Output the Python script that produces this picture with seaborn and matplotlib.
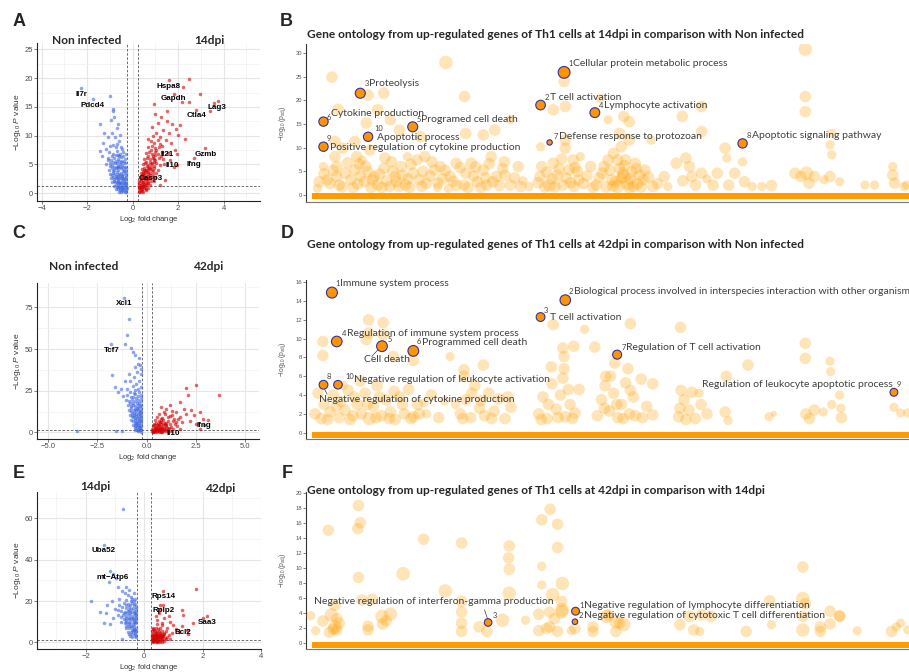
import numpy as np
import pandas as pd
import matplotlib
matplotlib.use("Agg")
import matplotlib.pyplot as plt
import seaborn as sns

sns.set_theme(style="white")
plt.rcParams['font.family'] = ['Liberation Sans', 'DejaVu Sans']
plt.rcParams['mathtext.fontset'] = 'custom'
plt.rcParams['mathtext.rm'] = 'Liberation Sans'
plt.rcParams['mathtext.it'] = 'Liberation Sans:italic'

# ---------------- Volcano data (log2 fold change, -log10 p) ----------------
A_blue = [(-2.26,18.3),(-1.76,16.4),(-0.98,16.9),(-0.88,14.7),(-0.84,14.2),(-1.42,12.1),(-1.25,10.4),(-1.45,7.4),
          (-1.1,9.8),(-0.69,11.3),(-0.76,9.8),(-0.95,12.8),(-0.8,13.3),(-0.62,12.0),(-1.3,8.8),(-1.0,8.2),(-0.9,10.5),
          (-0.55,10.2),(-0.7,8.6),(-1.15,7.6),(-1.35,6.4),(-0.6,9.0),(-0.5,8.0),
          (-1.05,7.2),(-0.85,6.8),(-0.7,7.3),(-0.55,6.9),(-0.4,7.1),
          (-1.1,6.1),(-0.95,5.8),(-0.8,6.2),(-0.65,5.9),(-0.5,6.3),(-0.35,6.0),
          (-1.15,5.0),(-1.0,5.3),(-0.9,4.9),(-0.78,5.2),(-0.66,4.8),(-0.55,5.1),(-0.45,4.9),(-0.32,5.2),
          (-1.05,4.1),(-0.92,4.4),(-0.82,4.0),(-0.72,4.3),(-0.62,4.1),(-0.52,4.4),(-0.42,4.0),(-0.3,4.3),
          (-1.0,3.4),(-0.88,3.6),(-0.78,3.3),(-0.7,3.7),(-0.6,3.4),(-0.5,3.6),(-0.4,3.3),(-0.3,3.6),
          (-0.95,2.7),(-0.85,2.9),(-0.75,2.6),(-0.67,2.9),(-0.58,2.7),(-0.48,3.0),(-0.38,2.7),(-0.28,2.9),
          (-0.9,2.0),(-0.8,2.2),(-0.7,1.9),(-0.62,2.2),(-0.55,2.0),(-0.45,2.3),(-0.36,2.0),(-0.27,2.2),
          (-0.82,1.3),(-0.72,1.5),(-0.63,1.3),(-0.55,1.6),(-0.47,1.3),(-0.38,1.5),(-0.3,1.3),
          (-0.75,0.8),(-0.65,0.7),(-0.57,0.9),(-0.48,0.7),(-0.4,0.9),(-0.32,0.7),(-0.26,0.9),
          (-0.6,0.3),(-0.5,0.2),(-0.42,0.35),(-0.34,0.2),(-0.27,0.3),
          (-0.6,5.6),(-0.45,5.6),(-0.7,4.6),(-0.35,4.6),(-0.85,3.9),(-0.55,3.0),(-0.42,2.4),(-0.33,1.8),(-0.5,1.0),
          (-0.65,2.5),(-0.75,5.6),(-0.9,6.5),(-0.62,6.6),(-0.48,7.6),(-0.75,8.0),(-0.88,8.4),(-0.58,1.8),(-0.3,0.5),
          (-0.38,3.9),(-0.92,3.1),
          (-0.8,4.6),(-0.65,4.5),(-0.55,4.6),(-0.42,4.6),(-0.32,3.9),(-0.45,3.0),(-0.62,3.1),(-0.72,3.0),(-0.8,2.5),
          (-0.5,2.6),(-0.35,2.4),(-0.4,1.8),(-0.5,1.7),(-0.66,1.7),(-0.76,1.9),(-0.6,1.0),(-0.45,0.5),(-0.36,1.1),
          (-0.55,0.5),(-0.7,1.1),(-0.28,1.6),(-0.29,3.2),(-0.37,5.4),(-0.52,5.4),(-0.68,5.3),(-0.85,5.5),(-0.58,6.4),
          (-0.44,6.5),(-0.72,6.6),(-0.97,4.7),(-1.08,5.7),(-0.3,6.8)]
A_red = [(1.59,19.7),(2.47,19.8),(2.2,18.4),(2.95,17.3),(1.8,17.2),(2.17,15.9),(2.5,15.9),(0.93,15.5),(2.79,14.5),
         (3.39,14.2),(3.57,15.6),(3.74,16.0),(3.2,7.8),(2.69,6.1),(1.95,4.9),(1.44,2.3),(1.22,1.4),(1.0,13.8),(1.25,13.2),
         (1.5,12.5),(1.75,12.0),(1.9,11.2),(1.1,12.2),(1.35,11.0),(1.6,10.5),(2.0,10.2),(1.2,9.8),(1.45,9.3),(1.7,8.8),
         (1.85,7.5),(1.3,8.2),(1.55,7.0),(1.95,6.8),(1.65,5.8),(1.8,4.5),(2.1,11.8),(1.5,14.3),(0.85,11.5),(1.05,10.5),(2.3,9.5),
         (0.8,9.1),(0.95,8.8),(1.1,9.3),(0.7,8.0),(0.85,8.2),(1.0,7.9),(1.15,8.1),
         (0.6,7.0),(0.72,7.2),(0.85,6.9),(0.98,7.1),(1.12,6.8),(1.3,7.2),
         (0.52,6.0),(0.64,6.2),(0.76,5.9),(0.88,6.1),(1.0,5.8),(1.15,6.2),(1.35,6.0),
         (0.45,5.0),(0.56,5.2),(0.68,4.9),(0.8,5.1),(0.92,4.8),(1.05,5.2),(1.2,4.9),(1.4,5.1),
         (0.4,4.2),(0.5,4.4),(0.6,4.1),(0.72,4.3),(0.84,4.0),(0.96,4.3),(1.1,4.1),
         (0.36,3.5),(0.46,3.3),(0.56,3.6),(0.66,3.4),(0.78,3.6),(0.9,3.3),(1.02,3.5),
         (0.32,2.8),(0.42,2.9),(0.52,2.7),(0.62,3.0),(0.73,2.7),(0.85,2.9),(0.97,2.8),
         (0.3,2.1),(0.38,2.2),(0.48,2.0),(0.58,2.3),(0.68,2.0),(0.8,2.2),(0.92,2.1),
         (0.28,1.4),(0.36,1.5),(0.45,1.3),(0.55,1.6),(0.65,1.4),(0.76,1.5),
         (0.27,0.8),(0.34,0.9),(0.42,0.7),(0.5,0.9),(0.6,0.8),(0.27,0.3),(0.33,0.2),(0.4,0.35),(0.48,0.25),
         (0.5,3.9),(0.7,3.8),(0.62,4.7),(0.75,5.5),(0.9,6.5),(1.05,7.5),(0.55,2.5),(0.45,1.9),(0.35,1.0),(0.66,2.6),
         (0.82,4.6),(0.95,5.5),(1.25,6.5),(1.2,8.6),(0.9,10.0),(0.7,9.5),
         (0.3,1.8),(0.4,1.6),(0.5,1.4),(0.6,1.8),(0.7,1.7),(0.35,2.5),(0.45,2.6),(0.58,2.6),(0.7,2.4),(0.4,3.1),
         (0.52,3.2),(0.62,3.7),(0.75,3.1),(0.45,3.7),(0.55,4.1),(0.66,4.4),(0.78,4.2),(0.88,3.8),(0.3,1.1),(0.42,1.1),
         (0.55,1.1),(0.7,0.9),(0.38,0.5),(0.57,0.5),(0.6,5.5),(0.7,6.5),(0.85,5.3),(0.95,6.0),(0.8,7.5),(1.0,6.6)]
A_labels = [("Il7r",-2.23,17.2),("Pdcd4",-1.76,15.3),("Hspa8",1.59,18.5),("Gapdh",1.81,16.4),("Ctla4",2.79,13.5),
            ("Lag3",3.72,14.9),("Il21",1.51,6.8),("Il10",1.76,4.8),("Ifng",2.69,5.0),("Gzmb",3.23,6.8),("Casp3",0.78,2.5)]

C_blue = [(-1.17,80.4),(-0.91,67.8),(-1.0,58.4),(-1.11,53),(-1.82,53),(-0.78,50.4),(-0.69,48.4),(-0.61,46.4),(-0.39,44.4),
          (-0.35,40.4),(-1.74,34.2),(-1.62,27.4),(-3.56,1),(-1.54,1),(-1.28,1),(-0.3,38),(-0.3,35),(-0.5,36),(-0.65,33),
          (-1.1,31),(-0.85,31),(-1.3,26),(-1.45,24),(-1.2,22),(-0.55,29),(-0.4,31),(-0.7,28),(-1.0,26),(-0.9,35),(-0.62,39),(-0.45,41),
          (-1.0,22.5),(-0.8,21.5),(-0.6,22.8),(-0.45,21.8),(-0.3,22.4),
          (-1.05,19.4),(-0.9,18.6),(-0.75,19.5),(-0.6,18.7),(-0.45,19.3),(-0.3,18.8),
          (-0.95,16.3),(-0.82,15.6),(-0.7,16.4),(-0.58,15.7),(-0.46,16.2),(-0.34,15.8),(-0.27,16.5),
          (-0.9,13.2),(-0.78,12.6),(-0.67,13.4),(-0.56,12.7),(-0.45,13.3),(-0.35,12.8),(-0.27,13.1),
          (-0.85,10.3),(-0.74,9.7),(-0.64,10.4),(-0.54,9.8),(-0.44,10.2),(-0.35,9.7),(-0.27,10.4),
          (-0.8,7.2),(-0.7,6.7),(-0.6,7.3),(-0.5,6.8),(-0.41,7.2),(-0.33,6.7),(-0.27,7.3),
          (-0.72,4.2),(-0.62,3.8),(-0.53,4.3),(-0.45,3.7),(-0.37,4.2),(-0.29,3.8),
          (-0.6,1.6),(-0.5,1.2),(-0.42,1.7),(-0.34,1.3),(-0.28,1.6),
          (-0.5,14.5),(-0.65,11.5),(-0.4,8.5),(-0.55,5.5),(-0.32,2.5),(-0.7,17.5),(-0.38,17.5),(-0.55,20.5),(-0.85,24.5),
          (-0.6,25.5),(-0.42,26),(-0.3,27.5),(-0.75,11.5),(-0.33,11.5),(-0.47,5.5),(-0.62,8.8),
          (-0.3,5.5),(-0.4,5.8),(-0.5,3.0),(-0.35,3.0),(-0.6,5.6),(-0.7,9.0),(-0.5,8.5),(-0.3,8.6),(-0.4,11.5),(-0.55,11.3),
          (-0.3,14.5),(-0.42,14.8),(-0.62,14.2),(-0.8,14.5),(-0.5,17.7),(-0.85,17.8),(-0.3,20.5),(-0.7,21),(-0.4,24),
          (-0.65,23.8),(-0.38,2.2),(-0.46,0.6),(-0.3,0.5),(-0.58,2.8)]
C_red = [(2.01,26.8),(2.52,28.4),(3.67,22.4),(1.67,18.4),(2.1,22.4),(0.74,15.4),(1.17,16.4),(2.26,13.4),(2.85,8),(2.69,2),
         (1.9,14),(1.5,12),(2.0,11),(2.4,10.5),(1.3,13),(1.0,14),(1.7,9),(2.2,7),(1.4,8),(0.9,12),(1.8,6),(2.5,5),(2.9,4.5),
         (1.2,10),(0.6,11),(3.1,7.5),(2.7,12.5),
         (0.5,9.2),(0.8,8.8),(1.1,9.3),(0.4,7.2),(0.6,6.8),(0.85,7.3),(1.1,6.9),(1.35,7.1),
         (0.35,5.2),(0.55,4.8),(0.75,5.3),(0.95,4.9),(1.2,5.2),(1.45,4.8),
         (0.3,3.6),(0.45,3.3),(0.62,3.7),(0.8,3.4),(1.0,3.6),(1.25,3.3),(1.55,3.6),
         (0.27,2.1),(0.4,1.8),(0.55,2.2),(0.72,1.9),(0.9,2.1),(1.1,1.8),(1.35,2.2),(1.7,1.9),
         (0.26,0.9),(0.38,0.6),(0.5,1.0),(0.65,0.7),(0.82,0.9),(1.0,0.6),(1.25,1.0),
         (0.3,0.2),(0.45,0.3),(0.6,0.1),(0.8,0.25),
         (0.7,6.0),(0.5,4.2),(0.9,5.8),(1.0,4.2),(0.65,2.7),(1.15,2.8),(0.48,2.7),(1.5,6),(1.6,8),(0.95,11),(1.3,10.5),
         (0.35,1.4),(0.5,1.6),(0.62,1.4),(0.78,1.5),(0.95,1.4),(0.4,2.6),(0.56,2.9),(0.75,2.6),(0.9,2.8),(1.05,2.5),
         (0.35,4.3),(0.62,4.4),(0.82,4.2),(0.45,5.9),(0.65,6.0),(1.0,5.8),(0.7,8),(0.3,0.5),(0.42,0.9),(0.7,0.3)]
C_labels = [("Xcl1",-1.17,77),("Tcf7",-1.76,49.4),("Ifng",2.91,4),("Il10",1.33,-0.6)]

E_blue = [(-0.72,64.4),(-1.38,47.1),(-1.06,33.1),(-1.15,34.7),(-0.95,31),(-1.8,20.2),(-1.52,14.8),(-1.38,9.2),(-1.17,8.9),
          (-0.89,13.2),(-0.74,1.5),(-1.2,29),(-0.9,27),(-0.75,25),(-0.65,24),(-0.55,23),(-0.45,22),(-1.1,20),(-1.25,18),
          (-0.85,21),(-1.0,16),(-0.6,27),(-0.5,25.5),(-0.35,24),(-0.3,21),(-1.3,14),(-0.8,10),(-1.05,12),
          (-0.7,19.3),(-0.55,18.7),(-0.42,19.2),(-0.3,18.8),
          (-0.75,17.2),(-0.62,16.8),(-0.5,17.3),(-0.38,16.7),(-0.28,17.1),
          (-0.78,15.2),(-0.66,14.8),(-0.55,15.3),(-0.44,14.7),(-0.34,15.2),(-0.27,14.8),
          (-0.72,13.2),(-0.6,12.7),(-0.5,13.3),(-0.4,12.8),(-0.32,13.2),(-0.26,12.7),
          (-0.7,11.2),(-0.6,10.8),(-0.5,11.3),(-0.41,10.7),(-0.33,11.2),(-0.26,10.8),
          (-0.66,9.2),(-0.56,8.8),(-0.47,9.3),(-0.38,8.7),(-0.3,9.2),
          (-0.6,7.2),(-0.5,6.8),(-0.42,7.3),(-0.34,6.7),(-0.27,7.1),
          (-0.55,5.2),(-0.46,4.8),(-0.38,5.3),(-0.3,4.7),(-0.48,3.2),(-0.4,2.8),(-0.32,3.3),(-0.27,2.7),
          (-0.45,16),(-0.58,14),(-0.36,14),(-0.52,10),(-0.3,10),(-0.44,8),(-0.62,20.5),(-0.4,21),(-0.85,18),
          (-0.9,15.5),(-0.8,12.5),(-0.36,6),(-0.52,12),(-0.29,16),
          (-0.3,6),(-0.42,6),(-0.5,8),(-0.34,8),(-0.6,8),(-0.28,12),(-0.38,12),(-0.45,11.9),(-0.62,11.9),(-0.3,14),
          (-0.48,14.1),(-0.7,14.1),(-0.3,4),(-0.4,4),(-0.5,4),(-0.35,18),(-0.48,18),(-0.6,18),(-0.5,15.8),(-0.36,10),
          (-0.63,10),(-0.28,5.5),(-0.45,20),(-0.33,19.8)]
E_red = [(0.66,24.8),(1.77,25.8),(0.54,18),(0.66,18),(1.31,15.6),(1.32,13.2),(2.17,12.9),(2.03,11.6),(1.69,9.2),(1.29,7.9),
         (1.46,6),(0.5,14),(0.7,12),(0.9,10),(1.0,8.5),(0.6,9.5),(1.1,6.5),(0.45,11),(0.8,7),(1.2,5),(0.95,4.5),(0.55,16),
         (0.4,13),(1.5,4),(0.85,13),
         (0.3,7.2),(0.42,6.8),(0.55,7.1),(0.28,5.6),(0.38,5.3),(0.5,5.7),(0.62,5.4),(0.75,5.6),
         (0.27,4.1),(0.36,3.8),(0.46,4.2),(0.58,3.9),(0.7,4.1),(0.85,3.8),
         (0.27,2.9),(0.35,2.6),(0.44,3.0),(0.54,2.7),(0.66,2.9),(0.8,2.6),
         (0.26,1.7),(0.33,1.4),(0.42,1.8),(0.52,1.5),(0.63,1.7),(0.76,1.4),(0.9,1.7),
         (0.27,0.8),(0.35,0.5),(0.44,0.9),(0.55,0.6),(0.68,0.8),(0.3,0.2),(0.4,0.1),(0.5,0.25),
         (0.32,2.2),(0.4,2.3),(0.48,2.2),(0.58,2.1),(0.3,1.1),(0.38,1.0),(0.47,1.1),(0.6,1.1),(0.72,2.2),(0.36,3.3),
         (0.5,3.4),(0.62,3.3),(0.4,4.7),(0.55,4.7),(0.35,6.2),(0.48,6.3),(0.6,8.5),(0.45,9),
         (0.29,3.5),(0.33,4.6),(0.42,3.5),(0.52,3.2),(0.56,4.3),(0.65,3.5),(0.28,2.4),(0.46,2.6),(0.6,2.5),(0.3,0.5),
         (0.46,0.4),(0.6,0.4),(0.29,6.5),(0.45,5.1),(0.7,4.7)]
E_labels = [("Uba52",-1.38,44.4),("mt\u2212Atp6",-1.06,31.3),("Rps14",0.68,22.1),("Rplp2",0.66,15.3),("Saa3",2.15,9.7),("Bcl2",1.32,4.7)]

# ---------------- GO bubble data (term position, -log10 p_adj, size class) ----------------
B_bg = [(82.8,30.8,4),(23.2,28.0,4),(4.3,24.9,3),(82.8,20.8,3),(82.8,17.6,3),(42.8,24.0,3),(26.3,20.8,3),(12.9,21.5,3),
        (10.3,21.1,3),(5.3,18.1,3),(14.0,15.9,3),(10.0,15.2,3),(11.9,18.0,3),(31.3,13.7,3),(33.9,15.9,2),(41.0,18.0,3),
        (43.0,18.7,3),(48.8,20.4,2),(65.6,18.7,3),(65.6,13.4,3),(62.4,16.6,3),(52.7,16.6,3),(53.6,15.5,3),(50.1,15.9,2),
        (52.0,13.0,3),(87.2,13.0,2),(86.9,10.6,2),(87.2,8.5,2),(69.5,9.9,3),(72.4,7.0,2),(69.8,7.8,2),(57.2,11.6,2),
        (29.4,12.7,3),(26.5,13.0,3),(19.0,12.3,3),(15.5,13.7,3),(38.9,10.2,2),(4.8,11.3,3),(8.1,11.3,3),(43.0,11.6,3),(97.3,6.0,2),
        (1.9,1.4,2),(3.5,3.2,3),(5.1,6.0,3),(2.9,6.0,2),(5.1,3.9,3),(5.5,2.1,3),(7.4,3.2,3),(8.1,5.3,3),(9.3,7.4,2),(9.7,2.8,3),
        (10.3,4.9,3),(11.3,3.9,3),(11.9,2.1,3),(12.9,5.6,3),(13.9,1.8,3),(14.8,3.9,3),(15.8,6.0,3),(16.5,2.1,3),(17.8,4.6,3),
        (18.4,7.4,3),(19.7,8.1,3),(20.0,2.5,3),(21.3,5.3,3),(21.9,2.5,3),(23.6,1.4,2),(23.9,3.9,3),(6.1,9.9,3),(4.8,8.1,3),
        (10.6,9.5,3),(8.4,8.1,3),(16.8,8.1,2),(26.2,2.1,3),(26.5,4.6,3),(27.4,6.7,3),(28.4,2.8,3),(29.4,5.3,3),(30.0,2.1,3),
        (30.7,8.1,3),(31.6,3.9,3),(32.6,5.6,3),(33.9,2.1,3),(35.2,6.0,3),(22.3,6.0,3),(24.9,6.7,3),(38.8,3.9,3),(39.1,6.0,3),
        (40.4,2.1,4),(41.0,6.7,3),(41.7,4.2,3),(42.6,2.1,3),(43.6,5.3,3),(44.3,7.4,3),(45.2,3.2,3),(45.5,8.1,2),(43.0,9.9,3),
        (47.2,6.0,3),(48.1,2.1,3),(49.1,4.6,3),(50.1,7.4,3),(50.7,3.2,3),(51.0,8.8,3),(51.7,1.8,4),(52.0,5.6,3),(52.3,10.2,3),
        (52.7,3.9,4),(53.0,7.4,3),(53.3,2.5,4),(53.6,11.6,3),(54.0,4.9,3),(54.3,1.8,3),(54.6,6.7,3),(55.9,3.2,3),(56.2,5.3,3),
        (57.5,1.8,3),(59.4,3.9,3),(51.7,7.4,3),(52.3,3.5,3),(61.4,6.7,3),(63.0,7.8,3),(63.6,6.0,3),(64.0,3.9,3),(64.6,2.1,3),
        (65.6,4.6,3),(67.5,2.1,3),(68.2,4.6,3),(70.1,2.1,3),(71.1,4.6,3),(72.7,2.8,3),(74.0,1.8,2),(75.6,1.8,2),(77.2,2.0,3),
        (81.1,4.6,3),(82.1,3.9,3),(83.0,4.6,4),(83.4,2.5,3),(84.3,3.9,3),(85.9,3.2,2),(86.9,3.9,3),(88.5,2.8,2),(92.7,2.1,2),
        (94.3,2.1,2),(97.3,4.2,3),(97.6,2.5,3),(99.2,1.8,2),(99.6,2.1,2),
        (3.0,4.5,3),(4.0,2.4,3),(6.5,4.6,3),(7.8,1.6,3),(9.0,4.0,3),(10.8,1.6,3),(12.2,4.4,3),(13.4,3.0,3),(15.0,2.8,3),
        (16.0,4.2,3),(17.2,1.6,3),(18.8,3.2,3),(20.6,4.0,3),(22.6,3.4,3),(25.0,2.0,3),(27.8,4.0,3),(29.0,1.6,3),(31.0,2.8,3),
        (33.0,4.2,3),(39.6,1.7,3),(40.8,3.4,3),(42.0,5.5,3),(43.2,3.6,3),(44.4,1.8,3),(48.6,3.6,3),(49.8,1.7,3),(50.4,5.2,3),
        (51.3,2.8,3),(52.8,6.2,3),(53.8,3.4,3),(55.0,2.4,3),(55.3,4.2,3),(44.6,5.8,3),(8.8,6.5,3),(14.2,7.0,3),(36.0,3.0,2),
        (37.0,1.8,2),(60.0,1.8,2),(62.5,3.0,3),(66.5,3.4,2),
        (2.2,2.8,3),(4.5,5.2,3),(6.0,1.7,3),(6.9,6.8,3),(8.6,2.3,3),(9.9,6.1,3),(11.0,3.2,3),(12.6,1.6,3),(13.1,7.8,3),
        (14.4,5.0,3),(15.4,1.8,3),(16.9,3.4,3),(17.4,6.5,3),(19.2,1.8,3),(19.4,5.0,3),(20.9,7.0,3),(21.8,1.6,2),(23.1,5.2,3),
        (24.4,2.9,3),(25.6,5.8,3),(26.9,1.6,3),(28.1,5.9,3),(29.8,3.6,3),(30.4,6.6,3),(32.1,2.0,3),(32.9,7.0,3),(34.6,3.6,3),
        (35.6,1.8,3),(38.5,2.6,3),(39.9,4.8,3),(41.3,1.7,3),(42.4,7.6,3),(43.9,2.6,3),(45.0,5.0,3),(46.0,2.4,3),(46.6,4.0,3),
        (47.6,1.6,3),(49.4,6.0,3),(50.9,1.9,3),(52.5,4.6,3),(53.6,1.5,3),(54.8,5.6,3),(55.6,1.7,3),(56.8,3.8,3),(58.3,2.4,3)]
B_terms = ["Cellular protein metabolic process", "T cell activation", "Proteolysis", "Lymphocyte activation",
           "Programed cell death", "Cytokine production", "Defense response to protozoan", "Apoptotic signaling pathway",
           "Positive regulation of cytokine production", "Apoptotic process"]
B_hi_x = [42.8, 38.9, 9.0, 47.9, 17.7, 2.9, 40.4, 72.4, 2.9, 10.3]
B_hi_y = [25.9, 19.0, 21.5, 17.4, 14.4, 15.5, 11.1, 10.9, 10.2, 12.3]
B_hi_s = [72, 48, 52, 50, 52, 45, 15, 45, 45, 45]
B_num_xy = [(43.5,27.8),(39.6,20.6),(9.7,23.5),(48.5,19.0),(18.4,16.0),(3.5,16.4),(41.1,12.3),(73.1,12.5),(3.5,11.9),(11.4,14.0)]
B_txt_xy = [(44.3,27.8),(40.4,20.6),(10.4,23.5),(49.4,19.0),(19.0,16.0),(4.2,17.3),(41.9,12.3),(74.0,12.5),(4.0,10.0),(11.7,12.2)]

D_bg = [(10.4,12.0,3),(12.8,11.7,3),(10.4,10.6,3),(12.8,10.4,3),(10.0,9.9,3),(2.8,9.7,3),(2.8,8.2,3),(23.9,8.1,2),
        (14.5,8.1,3),(17.8,7.7,3),(29.4,7.2,3),(26.2,6.7,3),(26.2,6.0,3),(41.0,11.5,3),(46.2,11.0,2),(53.8,11.6,3),
        (62.1,11.2,3),(42.6,9.0,3),(44.4,9.2,3),(47.9,9.1,3),(42.8,8.1,3),(40.7,7.0,3),(42.8,6.8,3),(49.7,6.0,3),
        (51.2,7.4,3),(53.4,6.8,3),(82.8,9.5,3),(82.8,7.9,3),(86.9,7.6,2),(87.0,6.5,2),(73.3,7.2,3),(69.7,6.0,3),
        (57.5,5.2,3),(55.6,5.7,3),(62.2,4.5,3),(64.0,4.3,3),(88.5,4.0,2),(84.3,2.4,3),(88.7,2.6,2),(97.5,2.7,2),
        (98.6,2.1,2),(99.8,2.1,2),
        (1.5,2.0,3),(2.5,1.5,3),(3.0,3.0,3),(4.0,2.2,3),(4.5,4.0,3),(5.5,1.6,3),(5.8,3.3,3),(6.5,2.4,3),(7.0,4.5,3),
        (7.8,1.8,3),(8.5,3.0,3),(9.2,2.0,3),(9.8,4.2,3),(10.5,1.5,4),(11.2,2.8,3),(11.8,5.0,3),(12.5,1.8,3),(13.3,3.5,3),
        (14.0,2.2,3),(14.8,1.4,3),(15.5,3.8,3),(16.3,2.0,3),(17.0,4.6,3),(17.8,1.7,3),(18.5,3.0,3),(20.0,2.0,2),(20.8,4.0,3),
        (22.0,1.6,3),(23.0,3.4,2),(25.6,2.0,3),(26.5,3.5,3),(27.3,1.6,3),(28.0,5.0,3),(28.8,2.6,3),(29.6,1.8,3),(30.3,4.2,3),
        (31.2,2.3,3),(32.0,3.6,3),(33.0,1.5,3),(34.0,2.7,3),(38.6,2.0,3),(39.3,3.8,3),(40.0,1.5,3),(40.8,5.2,3),(41.5,2.5,3),
        (42.2,4.0,3),(43.0,1.7,3),(43.8,3.0,3),(44.6,2.1,3),(45.3,4.6,3),(48.3,1.8,3),(49.0,3.5,3),(49.6,5.0,3),(50.3,2.3,3),
        (51.0,4.2,3),(51.7,1.6,3),(52.3,3.0,3),(53.0,5.3,3),(53.6,2.0,3),(54.3,3.8,3),(55.8,1.6,3),(56.5,2.8,3),(57.5,1.9,3),
        (61.8,1.7,3),(62.7,3.5,3),(63.5,2.4,3),(64.6,1.5,3),(65.5,3.0,3),(66.5,2.0,3),(69.5,2.2,3),(70.0,1.3,2),(76.8,1.7,2),
        (77.6,2.0,1),(82.9,2.0,3),(83.5,1.5,3),(85.8,2.2,2),(87.2,3.0,2),(88.8,1.6,3),
        (2.0,4.2,3),(3.6,1.4,3),(5.0,2.8,3),(6.2,5.0,2),(7.3,1.4,3),(8.0,3.8,3),(9.0,5.5,3),(10.2,3.0,3),(11.6,1.6,3),
        (12.2,3.8,3),(13.8,1.5,3),(14.6,4.4,3),(16.0,3.0,3),(17.4,1.5,3),(18.8,2.0,3),(19.6,3.2,2),(24.8,3.0,2),(26.0,1.5,3),
        (27.5,4.2,3),(29.0,3.4,3),(30.8,1.5,3),(33.5,3.8,3),(39.0,1.4,3),(40.2,3.0,3),(41.8,1.6,3),(42.6,5.8,3),(43.5,4.6,3),
        (44.2,1.5,3),(49.5,2.6,3),(50.5,6.0,3),(51.5,3.0,3),(52.6,1.5,3),(53.8,4.5,3),(54.6,1.8,3),(62.0,2.6,3),(63.0,1.4,3),
        (65.2,4.2,2)]
D_terms = ["Immune system process", "Biological process involved in interspecies interaction with other organisms",
           "T cell activation", "Regulation of immune system process", "Cell death", "Programmed cell death",
           "Regulation of T cell activation", "Negative regulation of cytokine production",
           "Regulation of leukocyte apoptotic process", "Negative regulation of leukocyte activation"]
D_hi_x = [4.3, 43.0, 38.9, 5.1, 12.6, 17.8, 51.6, 2.9, 97.5, 5.3]
D_hi_y = [14.9, 14.1, 12.3, 9.7, 9.2, 8.7, 8.3, 5.1, 4.3, 5.1]
D_hi_s = [62, 58, 40, 58, 60, 60, 42, 40, 32, 38]
D_num_xy = [(4.9,15.9),(43.6,15.0),(39.5,13.0),(5.9,10.6),(13.6,9.95),(18.4,9.7),(52.3,9.1),(3.5,6.0),(97.9,5.1),(6.6,6.0)]
D_txt_xy = [(5.7,15.9),(44.4,15.0),(40.4,12.2),(6.8,10.6),(13.5,7.8),(19.2,9.6),(53.0,9.1),(2.2,3.5),(97.3,5.1),(8.0,5.7)]
D_txt_ha = ["left","left","left","left","center","left","left","left","right","left"]

F_bg = [(8.7,18.3,3),(9.0,16.0,3),(8.6,15.2,3),(3.7,15.0,3),(40.5,17.8,3),(39.1,16.4,3),(41.7,15.8,3),(19.5,13.8,3),
        (25.8,13.3,3),(33.7,12.9,3),(41.7,12.7,3),(33.6,11.3,3),(33.7,9.8,3),(39.1,10.2,2),(16.1,9.2,4),(8.7,8.7,3),
        (82.4,10.1,3),(39.1,7.7,2),(42.5,7.9,4),(23.1,6.9,4),(33.7,6.6,4),(40.9,6.4,4),(82.4,5.9,4),(76.9,5.6,3),(25.8,5.5,3),
        (11.0,5.8,3),(9.3,5.7,3),(42.4,5.5,3),(82.8,5.2,3),(86.9,4.2,3),(88.5,3.6,3),(4.8,5.0,3),(0.8,3.6,2),(4.2,3.7,4),
        (5.1,3.2,3),(2.8,2.9,3),(4.8,2.1,4),(5.1,1.7,3),(1.6,1.6,2),(3.9,1.4,3),(12.6,3.5,4),(14.0,3.8,4),(12.7,2.5,3),
        (10.3,2.2,3),(10.3,1.7,3),(25.8,4.1,3),(25.8,2.6,3),(25.8,1.5,3),(28.7,2.1,3),(30.0,1.5,3),(32.6,3.0,4),(36.4,3.0,2),
        (38.6,3.8,3),(40.4,4.1,3),(42.4,4.1,4),(40.4,2.1,3),(38.6,1.6,3),(39.9,1.9,3),(41.7,1.5,3),(44.6,1.9,3),(47.6,2.1,3),
        (47.6,1.5,3),(49.9,3.5,4),(51.4,2.8,4),(52.7,2.4,4),(51.4,1.5,3),(62.0,2.4,3),(63.6,3.5,3),(64.3,1.7,3),(65.3,1.5,2),
        (65.6,3.7,3),(67.2,3.5,3),(73.0,1.5,3),(77.2,2.4,2),(82.4,1.7,4),(82.4,3.5,3),(85.3,2.1,3),(85.3,1.5,3),(86.9,2.5,3),
        (88.5,3.5,3),(91.4,1.6,2),(97.1,1.5,3),(97.9,2.1,2),(98.6,2.6,2),(99.8,1.7,2),
        (42.5,4.4,4),(41.2,3.2,3),(50.1,3.7,3),(52.0,2.6,3),(5.5,2.6,3),(4.5,1.8,3),(13.3,2.9,3),(44.0,1.6,2)]
F_terms = ["Negative regulation of lymphocyte differentiation", "Negative regulation of cytotoxic T cell differentiation",
           "Negative regulation of interferon-gamma production"]
F_hi_x = [44.7, 44.6, 30.2]
F_hi_y = [4.2, 2.8, 2.7]
F_hi_s = [32, 16, 30]
F_num_xy = [(45.4,5.0),(45.2,3.6),(30.9,3.6)]
F_txt_xy = [(46.1,5.0),(46.1,3.6),(1.3,5.5)]

# ---------------- figure ----------------
W, H = 909, 672
fig = plt.figure(figsize=(W/100, H/100), dpi=100)

def rect(l, t, r, b):
    return [l/W, 1-b/H, (r-l)/W, (b-t)/H]

def ftext(x, y, s, **kw):
    fig.text(x/W, 1-y/H, s, **kw)

BLUE = "#4169E1"
RED = "#D40000"

def volcano(ax, blue, red, labels, xlim, ylim, xmaj, xmin, ymaj, ymin):
    db = pd.DataFrame(blue, columns=["lfc", "nlp"])
    dr = pd.DataFrame(red, columns=["lfc", "nlp"])
    sns.scatterplot(data=db, x="lfc", y="nlp", ax=ax, color=BLUE, s=6.5, alpha=0.6, linewidth=0, legend=False, zorder=3)
    sns.scatterplot(data=dr, x="lfc", y="nlp", ax=ax, color=RED, s=6.5, alpha=0.6, linewidth=0, legend=False, zorder=3)
    ax.set_xlim(xlim); ax.set_ylim(ylim)
    ax.set_xticks(xmaj); ax.set_xticks(xmin, minor=True)
    ax.set_yticks(ymaj); ax.set_yticks(ymin, minor=True)
    ax.grid(which="major", color="#E6E6E6", lw=0.8)
    ax.grid(which="minor", color="#F2F2F2", lw=0.5)
    ax.set_axisbelow(True)
    for sp in ["top", "right"]:
        ax.spines[sp].set_visible(False)
    for sp in ["left", "bottom"]:
        ax.spines[sp].set_color("#222222"); ax.spines[sp].set_linewidth(0.8)
    ax.tick_params(which="major", labelsize=5.5, colors="#4D4D4D", length=2, width=0.5, pad=1,
                   left=True, bottom=True)
    ax.tick_params(which="minor", length=0)
    for v in (-0.25, 0.25):
        ax.axvline(v, ls=(0, (3, 2)), color="#555555", lw=0.6, zorder=2)
    ax.axhline(1.3, ls=(0, (3, 2)), color="#555555", lw=0.6, zorder=2)
    for name, x, y in labels:
        ax.text(x, y, name, fontsize=5.8, fontweight="bold", ha="center", va="center", color="black", zorder=5)
    ax.set_xlabel("Log$_2$ fold change", fontsize=5.5, color="#333333", labelpad=1.5)
    ax.set_ylabel(r"$-\mathrm{Log}_{10}\ \mathit{P}\ \mathrm{value}$", fontsize=6, color="#333333", labelpad=1)

axA = fig.add_axes(rect(37, 43, 260, 201))
volcano(axA, A_blue, A_red, A_labels, (-4.2, 5.6), (-1.35, 26.1),
        [-4, -2, 0, 2, 4], [-3, -1, 1, 3, 5], [0, 5, 10, 15, 20, 25], [2.5, 7.5, 12.5, 17.5, 22.5])
axC = fig.add_axes(rect(37, 283, 259, 439))
volcano(axC, C_blue, C_red, C_labels, (-5.57, 5.7), (-4, 89.6),
        [-5, -2.5, 0, 2.5, 5], [-3.75, -1.25, 1.25, 3.75], [0, 25, 50, 75], [12.5, 37.5, 62.5, 87.5])
axC.set_xticklabels(["\u22125.0", "\u22122.5", "0.0", "2.5", "5.0"])
axE = fig.add_axes(rect(37, 492, 261, 649))
volcano(axE, E_blue, E_red, E_labels, (-3.66, 4.0), (-3.2, 72.8),
        [-2, 0, 2, 4], [-3, -1, 1, 3], [0, 20, 40, 60], [10, 30, 50, 70])

GO_FONT = ["Lato", "DejaVu Sans"]

def go_panel(ax, bg, hi_x, hi_y, hi_s, ylim, yticks, bar, num_xy, txt_xy, terms, ha_list=None):
    dbg = pd.DataFrame(bg, columns=["term_pos", "nlp", "cls"])
    sns.scatterplot(data=dbg, x="term_pos", y="nlp", size="cls", sizes=(19, 95), size_norm=(1, 4),
                    color="#FFA000", alpha=0.28, linewidth=0, legend=False, ax=ax, zorder=3)
    dhi = pd.DataFrame({"term_pos": hi_x, "nlp": hi_y, "s": hi_s})
    sns.scatterplot(data=dhi, x="term_pos", y="nlp", size="s", sizes=(min(hi_s), max(hi_s)),
                    size_norm=(min(hi_s), max(hi_s)), color="#FF9400", edgecolor="#33339A", linewidth=0.8,
                    alpha=1, legend=False, ax=ax, zorder=5)
    ax.axhspan(bar[0], bar[1], xmin=0.01, xmax=1.0, color="#FF9A00", lw=0, zorder=2)
    ax.set_xlim(0, 100); ax.set_ylim(ylim)
    ax.set_xticks([]); ax.set_yticks(yticks)
    ax.set_xlabel("")
    for sp in ["top", "right"]:
        ax.spines[sp].set_visible(False)
    ax.spines["left"].set_color("#333333"); ax.spines["left"].set_linewidth(0.8)
    ax.spines["bottom"].set_color("#777777"); ax.spines["bottom"].set_linewidth(0.8)
    ax.tick_params(axis="y", labelsize=4.2, colors="#555555", length=2, width=0.5, pad=1, left=True)
    ax.set_ylabel(r"$-\log_{10}(\mathrm{p_{adj}})$", fontsize=4.8, color="#555555")
    ax.yaxis.set_label_coords(-0.03, 0.5)
    for i, term in enumerate(terms):
        nx, ny = num_xy[i]
        tx, ty = txt_xy[i]
        ha = "left" if ha_list is None else ha_list[i]
        ax.text(nx, ny, str(i + 1), fontsize=5.4, color="#404040", ha="left", va="center",
                family=GO_FONT, zorder=6)
        ax.text(tx, ty, term, fontsize=7.5, color="#404040", ha=ha, va="center", family=GO_FONT, zorder=6)

axB = fig.add_axes(rect(306, 44, 909, 202))
go_panel(axB, B_bg, B_hi_x, B_hi_y, B_hi_s, (-1.48, 31.9), [0, 5, 10, 15, 20, 25, 30], (-0.85, 0.4),
         B_num_xy, B_txt_xy, B_terms)

axD = fig.add_axes(rect(306, 280, 909, 439))
go_panel(axD, D_bg, D_hi_x, D_hi_y, D_hi_s, (-0.67, 16.24), list(range(0, 17, 2)), (-0.6, 0.1),
         D_num_xy, D_txt_xy, D_terms, D_txt_ha)
axD.plot([11.9, 10.9], [8.8, 8.1], color="#404040", lw=0.5, zorder=6)
axD.plot([3.1, 3.5], [4.6, 4.1], color="#404040", lw=0.5, zorder=6)

axF = fig.add_axes(rect(306, 492, 909, 649))
go_panel(axF, F_bg, F_hi_x, F_hi_y, F_hi_s, (-0.84, 20.1), list(range(0, 21, 2)), (-0.75, 0.05),
         F_num_xy, F_txt_xy, F_terms)
axF.plot([29.6, 30.1], [4.4, 3.2], color="#404040", lw=0.5, zorder=6)

# ---------------- titles and letters ----------------
TITLE_FONT = ["Lato", "DejaVu Sans"]
for x, y, s in [(86.5, 40, "Non infected"), (209, 40, "14dpi"), (84, 267, "Non infected"), (209, 267, "42dpi"),
                (95, 487, "14dpi"), (221, 489, "42dpi")]:
    ftext(x, y, s, fontsize=8.6, fontweight="bold", ha="center", va="center", family=TITLE_FONT)

for x, y, s in [(307, 34, "Gene ontology from up-regulated genes of Th1 cells at 14dpi in comparison with Non infected"),
                (307, 245, "Gene ontology from up-regulated genes of Th1 cells at 42dpi in comparison with Non infected"),
                (307, 491, "Gene ontology from up-regulated genes of Th1 cells at 42dpi in comparison with 14dpi")]:
    ftext(x, y, s, fontsize=8.6, fontweight="bold", ha="left", va="center", family=TITLE_FONT)

for x, y, s in [(19, 21, "A"), (286, 21, "B"), (19, 234, "C"), (287, 234, "D"), (19, 474, "E"), (287, 474, "F")]:
    ftext(x, y, s, fontsize=13, fontweight="bold", ha="center", va="center")

fig.savefig("out.png", dpi=100)
